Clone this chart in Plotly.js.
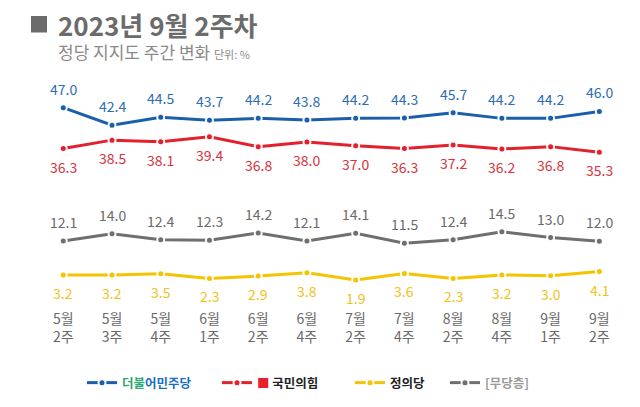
<!DOCTYPE html>
<html>
<head>
<meta charset="utf-8">
<script src="https://cdn.plot.ly/plotly-3.0.1.min.js"></script>
<style>html,body{margin:0;padding:0;background:#fff;}#chart{width:640px;height:407px;}</style>
</head>
<body>
<div id="chart"></div>
<script>
const weeks = ['5월<br>2주','5월<br>3주','5월<br>4주','6월<br>1주','6월<br>2주','6월<br>4주','7월<br>2주','7월<br>4주','8월<br>2주','8월<br>4주','9월<br>1주','9월<br>2주'];
const democratic  = [47.0,42.4,44.5,43.7,44.2,43.8,44.2,44.3,45.7,44.2,44.2,46.0];
const peoplePower = [36.3,38.5,38.1,39.4,36.8,38.0,37.0,36.3,37.2,36.2,36.8,35.3];
const independent = [12.1,14.0,12.4,12.3,14.2,12.1,14.1,11.5,12.4,14.5,13.0,12.0];
const justice     = [3.2,3.2,3.5,2.3,2.9,3.8,1.9,3.6,2.3,3.2,3.0,4.1];

const FONT = '"Noto Sans CJK KR", "Noto Sans", sans-serif';

const series = [
  {name:'<b><span style="color:#2fa873">더불</span><span style="color:#1a6fc4">어민주당</span></b>', y:democratic, line:'#1b5eaa', label:'#2d6db4', above:true, legend:'legend'},
  {name:'<b><span style="color:#e8202c">■</span> 국민의힘</b>', y:peoplePower, line:'#e2202e', label:'#d8323d', above:false, legend:'legend2'},
  {name:'<b>정의당</b>', y:justice, line:'#f5c400', label:'#f0c21a', above:false, legend:'legend3'},
  {name:'<b>[무당층]</b>', y:independent, line:'#6f6f6f', label:'#6a6a6a', above:true, legend:'legend4'}
];

const xs = weeks.map((w,i)=>i);

const traces = series.map(s => ({
  type:'scatter', mode:'lines+markers',
  x: xs, y: s.y, name: s.name, legend: s.legend,
  line:{color:s.line, width:3},
  marker:{color:s.line, size:7, line:{color:'rgba(255,255,255,0.95)', width:2}},
  hoverinfo:'skip'
}));

const annotations = [];
series.forEach(s => {
  s.y.forEach((v,i) => {
    annotations.push({
      x:i, y:v, xref:'x', yref:'y', text:v.toFixed(1), showarrow:false,
      yshift: s.above ? 19 : -18,
      font:{family:FONT, size:14, color:s.label}
    });
  });
});

annotations.push({
  xref:'paper', yref:'paper', x:57/640, y:1-24/407, xanchor:'left', yanchor:'middle',
  text:'<b>2023년 9월 2주차</b>', showarrow:false, borderpad:0,
  font:{family:FONT, size:26, color:'#6b6b6b'}
});
annotations.push({
  xref:'paper', yref:'paper', x:57/640, y:1-51.5/407, xanchor:'left', yanchor:'middle',
  text:'정당 지지도 주간 변화 <span style="font-size:11px">단위: %</span>', showarrow:false, borderpad:0,
  font:{family:FONT, size:17, color:'#8a8a8a'}
});

const legendBase = {orientation:'h', yanchor:'middle', xanchor:'left', y:1-383/407,
  bgcolor:'rgba(0,0,0,0)', font:{family:FONT, size:12.5, color:'#222'}};

const layout = {
  width:640, height:407,
  margin:{l:0,r:0,t:0,b:0},
  paper_bgcolor:'#fff', plot_bgcolor:'#fff',
  showlegend:true,
  xaxis:{
    domain:[38.9/640, 623.7/640], range:[-0.5,11.5],
    tickmode:'array', tickvals:xs, ticktext:weeks,
    showgrid:false, zeroline:false, showline:false, ticks:'',
    ticklabelstandoff:10,
    tickfont:{family:FONT, size:14, color:'#6a6a6a'},
    fixedrange:true
  },
  yaxis:{
    domain:[(407-299)/407, (407-77)/407], range:[-3.09, 55.03],
    visible:false, showgrid:false, zeroline:false, fixedrange:true
  },
  shapes:[{type:'rect', xref:'paper', yref:'paper',
    x0:31/640, x1:47/640, y0:1-32.5/407, y1:1-16/407,
    fillcolor:'#6b6b6b', line:{width:0}}],
  annotations:annotations,
  legend: Object.assign({}, legendBase, {x:82/640}),
  legend2: Object.assign({}, legendBase, {x:217/640}),
  legend3: Object.assign({}, legendBase, {x:350/640}),
  legend4: Object.assign({}, legendBase, {x:445/640, font:{family:FONT, size:12.5, color:'#9a9a9a'}})
};

Plotly.newPlot('chart', traces, layout, {staticPlot:true, displayModeBar:false});
</script>
</body>
</html>
